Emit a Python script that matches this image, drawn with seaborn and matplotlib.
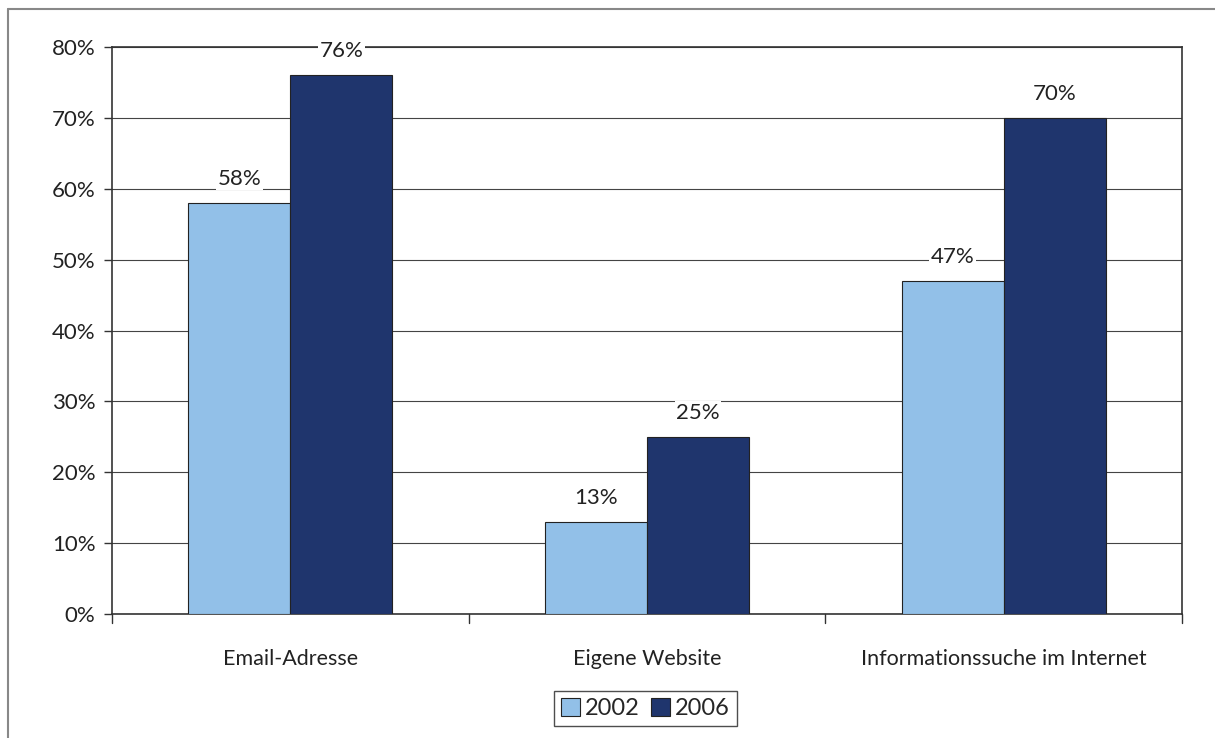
import numpy as np
import pandas as pd
import seaborn as sns
import matplotlib.pyplot as plt
from matplotlib.lines import Line2D
from matplotlib.patches import Patch

# -------------------------------
# Data
# -------------------------------
categories = ["Email-Adresse", "Eigene Website", "Informationssuche im Internet"]
years = ["2002", "2006"]
values_2002 = [58, 13, 47]
values_2006 = [76, 25, 70]
colors = ["#92C0E8", "#1F356D"]

df = pd.DataFrame({
    "category": categories * 2,
    "year": [years[0]] * 3 + [years[1]] * 3,
    "value": values_2002 + values_2006,
})

# -------------------------------
# Plot
# -------------------------------
sns.set_theme(style="white")
plt.rcParams["font.family"] = ["Lato", "DejaVu Sans"]

fig = plt.figure(figsize=(12.15, 7.38), dpi=100)
ax = fig.add_axes([0.0922, 0.168, 0.8806, 0.7683])

sns.barplot(data=df, x="category", y="value", hue="year", palette=colors,
            saturation=1, width=0.572, gap=0, edgecolor="#222222", linewidth=0.8,
            legend=False, ax=ax, zorder=3)

ax.set_ylim(0, 80)
ax.set_xlim(-0.5, 2.5)
ax.set_yticks(np.arange(0, 81, 10))
ax.set_yticklabels([f"{v}%" for v in range(0, 81, 10)], fontsize=16, color="#222222")
ax.set_xticks(range(3))
ax.set_xticklabels(categories, fontsize=15.5, color="#222222")
ax.tick_params(axis="x", length=0, pad=25)
ax.tick_params(axis="y", length=6, width=1, color="#333333", direction="out", left=True, pad=6)
ax.set_xlabel("")
ax.set_ylabel("")
ax.grid(axis="y", color="#444444", linewidth=0.8, zorder=0)
for s in ax.spines.values():
    s.set_color("#333333")
    s.set_linewidth(1.2)

# category boundary ticks below x axis
for xb in [-0.5, 0.5, 1.5, 2.5]:
    ax.plot([xb, xb], [0, -1.3], color="#333333", linewidth=1, clip_on=False, zorder=4)

# value labels
for cont in ax.containers:
    for bar in cont:
        h = bar.get_height()
        ax.text(bar.get_x() + bar.get_width() / 2, h + 2.0, f"{int(round(h))}%",
                ha="center", va="bottom", fontsize=16, color="#222222", zorder=5,
                bbox=dict(facecolor="white", edgecolor="none", pad=1))

# legend
handles = [Patch(facecolor=c, edgecolor="#222222", linewidth=0.8) for c in colors]
leg = fig.legend(handles, years, loc="center", bbox_to_anchor=(0.531, 0.040), ncol=2,
                 fontsize=17, frameon=True, fancybox=False, handlelength=0.8,
                 handleheight=0.8, handletextpad=0.2, columnspacing=0.5,
                 borderpad=0.3, borderaxespad=0)
leg.get_frame().set_edgecolor("#222222")
leg.get_frame().set_linewidth(1.0)

# outer frame (left and top)
fig.add_artist(Line2D([8 / 1215, 8 / 1215], [0, 1 - 9 / 738], color="#888888", linewidth=1.5))
fig.add_artist(Line2D([8 / 1215, 1], [1 - 9 / 738, 1 - 9 / 738], color="#888888", linewidth=1.5))

fig.savefig("out.png", dpi=100)
